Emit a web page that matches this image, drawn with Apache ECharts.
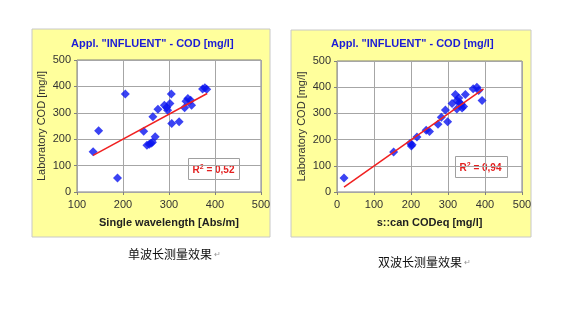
<!DOCTYPE html>
<html><head><meta charset="utf-8">
<script src="https://cdn.jsdelivr.net/npm/echarts@6/dist/echarts.min.js"></script>
<style>html,body{margin:0;padding:0;background:#fff;}#c{width:568px;height:329px;}</style>
</head><body><div id="c"></div>
<script>
var titleText = 'Appl. "INFLUENT" - COD [mg/l]';
var yName = 'Laboratory COD [mg/l]';
var xName1 = 'Single wavelength [Abs/m]';
var xName2 = 's::can CODeq [mg/l]';
var r2Label1 = '0,52';
var r2Label2 = '0,94';
var caption1 = '单波长测量效果';
var caption2 = '双波长测量效果';
var single = [[135,152],[147,232],[205,371],[188,53],[245,230],[252,177],[257,181],[261,185],[264,188],[270,209],[265,285],[276,313],[290,329],[295,320],[297,310],[302,335],[305,371],[306,259],[322,266],[334,319],[337,344],[341,354],[347,348],[349,329],[373,390],[378,395],[382,389]];
var singleFit = [[135,139],[383,373]];
var dual = [[19,53],[153,153],[198,186],[201,176],[203,180],[216,210],[241,236],[250,231],[273,259],[282,285],[293,313],[299,268],[311,338],[320,372],[324,349],[324,317],[329,359],[331,342],[336,335],[338,321],[342,326],[347,372],[368,394],[378,400],[383,387],[392,349]];
var dualFit = [[19,19],[396,394]];

var chart = echarts.init(document.getElementById('c'));
var font = 'Liberation Sans, Arial, sans-serif';
function xa(idx, min, name){
  return {gridIndex: idx, type:'value', min:min, max:500, interval:100,
    name:name, nameLocation:'middle', nameGap:25,
    nameTextStyle:{fontFamily:font, fontWeight:'bold', fontSize:11, color:'#222'},
    axisLine:{show:false}, axisTick:{show:true, length:3, lineStyle:{color:'#808080'}},
    axisLabel:{fontFamily:font, fontSize:11, color:'#333', margin:7},
    splitLine:{show:true, lineStyle:{color:'#a6a6a6', width:1}}};
}
function ya(idx, name){
  return {gridIndex: idx, type:'value', min:0, max:500, interval:100,
    name:name, nameLocation:'middle', nameGap:30,
    nameTextStyle:{fontFamily:font, fontSize:11, color:'#333'},
    axisLine:{show:false}, axisTick:{show:true, length:3, lineStyle:{color:'#808080'}},
    axisLabel:{fontFamily:font, fontSize:11, color:'#333', margin:6},
    splitLine:{show:true, lineStyle:{color:'#a6a6a6', width:1}}};
}
function r2Text(v){
  return {type:'text', style:{text:'{r|R}{s|2}{r| = ' + v + '}', rich:{r:{fontFamily:font,fontSize:10,fontWeight:'bold',fill:'#e32020'}, s:{fontFamily:font,fontSize:7,fontWeight:'bold',fill:'#e32020', verticalAlign:'top', padding:[0,0,6,0]}}}};
}
chart.setOption({
  animation:false,
  backgroundColor:'#fff',
  graphic:[
    {type:'rect', shape:{x:32, y:29, width:238, height:208}, style:{fill:'#ffff9c', stroke:'#c8c8c8', lineWidth:1}, z:-10},
    {type:'rect', shape:{x:291, y:30, width:240, height:207}, style:{fill:'#ffff9c', stroke:'#c8c8c8', lineWidth:1}, z:-10},
    {type:'text', left:150-79, top:38, style:{text:titleText, fontFamily:font, fontSize:11, fontWeight:'bold', fill:'#1c1cd6'}},
    {type:'text', left:410-79, top:38, style:{text:titleText, fontFamily:font, fontSize:11, fontWeight:'bold', fill:'#1c1cd6'}},
    {type:'group', left:188, top:158, z:100, children:[
      {type:'rect', shape:{x:0,y:0,width:51,height:21}, style:{fill:'#fff', stroke:'#a0a0a0', lineWidth:1}},
      Object.assign(r2Text(r2Label1), {x:4, y:5})
    ]},
    {type:'group', left:455, top:156, z:100, children:[
      {type:'rect', shape:{x:0,y:0,width:52,height:21}, style:{fill:'#fff', stroke:'#a0a0a0', lineWidth:1}},
      Object.assign(r2Text(r2Label2), {x:4, y:5})
    ]},
    {type:'text', left:128, top:248, style:{text:caption1, fontFamily:'Noto Sans CJK SC', fontSize:12, fill:'#111'}},
    {type:'text', left:214, top:251, style:{text:'↵', fontFamily:font, fontSize:8, fill:'#999'}},
    {type:'text', left:378, top:256, style:{text:caption2, fontFamily:'Noto Sans CJK SC', fontSize:12, fill:'#111'}},
    {type:'text', left:464, top:259, style:{text:'↵', fontFamily:font, fontSize:8, fill:'#999'}}
  ],
  grid:[
    {left:77, top:60, width:184, height:132, show:true, backgroundColor:'#fff', borderColor:'#808080', borderWidth:1},
    {left:337, top:61, width:185, height:131, show:true, backgroundColor:'#fff', borderColor:'#808080', borderWidth:1}
  ],
  xAxis:[xa(0,100,xName1), xa(1,0,xName2)],
  yAxis:[ya(0,yName), ya(1,yName)],
  series:[
    {type:'scatter', xAxisIndex:0, yAxisIndex:0, data:single, symbol:'diamond', symbolSize:9, itemStyle:{color:'#0a14f0'}, z:3},
    {type:'line', xAxisIndex:0, yAxisIndex:0, data:singleFit, symbol:'none', lineStyle:{color:'#f02020', width:1.5}, z:4},
    {type:'scatter', xAxisIndex:1, yAxisIndex:1, data:dual, symbol:'diamond', symbolSize:9, itemStyle:{color:'#0a14f0'}, z:3},
    {type:'line', xAxisIndex:1, yAxisIndex:1, data:dualFit, symbol:'none', lineStyle:{color:'#f02020', width:1.5}, z:4}
  ]
});
</script></body></html>
